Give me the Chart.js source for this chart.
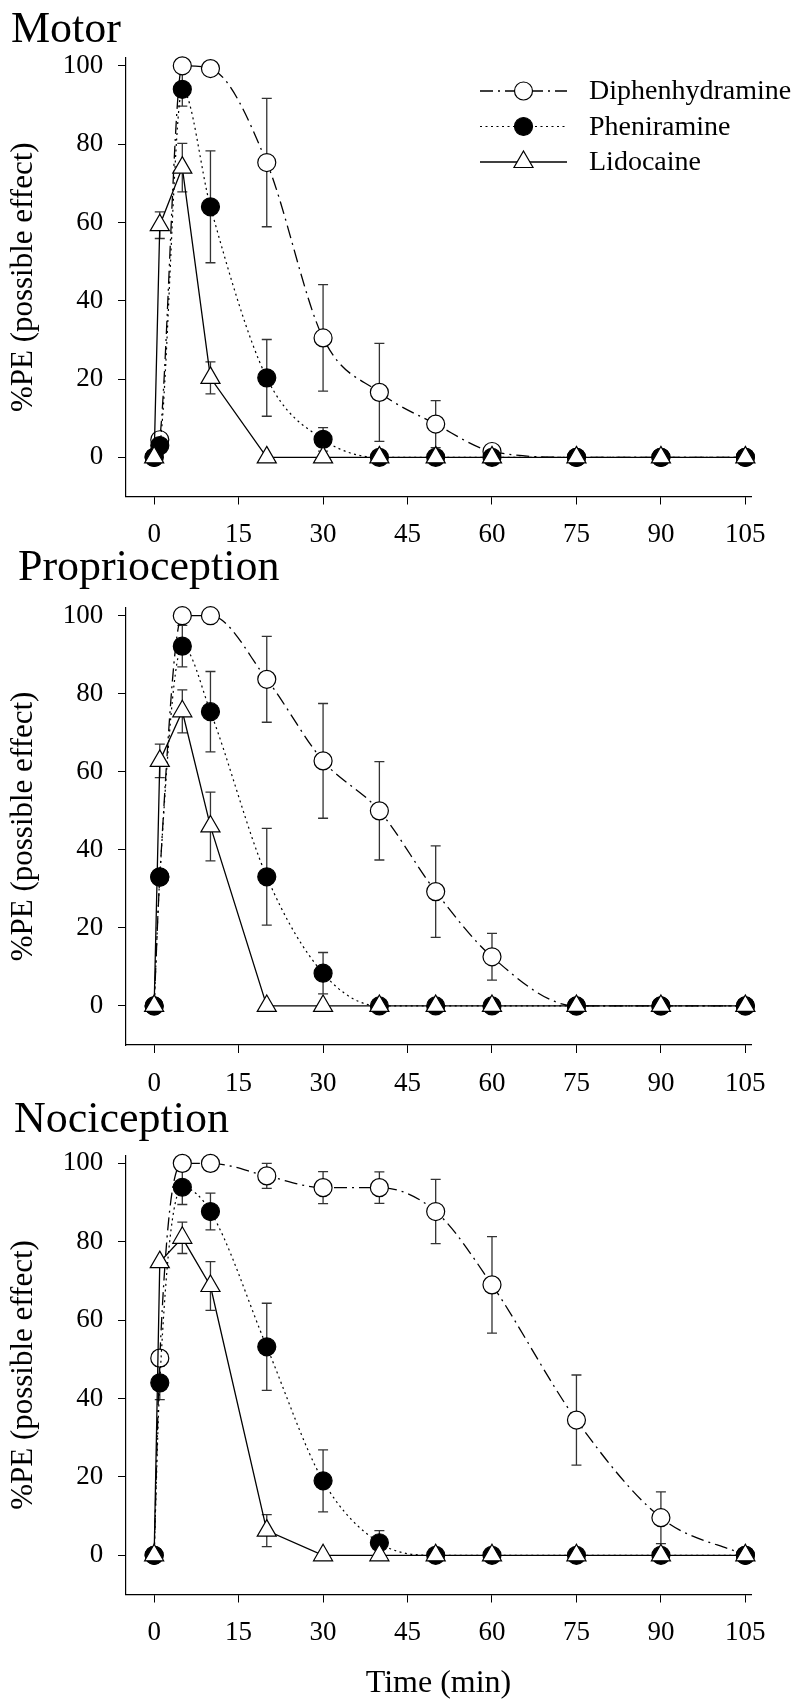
<!DOCTYPE html>
<html>
<head>
<meta charset="utf-8">
<script src="https://cdn.jsdelivr.net/npm/chart.js@4.4.1/dist/chart.umd.min.js"></script>
<style>
  html, body { margin: 0; padding: 0; background: #fff; }
  #wrap { position: relative; width: 800px; height: 1703px; }
  canvas { position: absolute; left: 0; }
</style>
</head>
<body>
<div id="wrap">
  <canvas id="motor" width="800" height="550" style="top:0px"></canvas>
  <canvas id="proprio" width="800" height="560" style="top:540px"></canvas>
  <canvas id="noci" width="800" height="613" style="top:1090px"></canvas>
</div>
<script>
// sampling times (min) and axis ticks
var times = [0, 1, 5, 10, 20, 30, 40, 50, 60, 75, 90, 105];
var xTicks = [0, 15, 30, 45, 60, 75, 90, 105];
var yTicks = [0, 20, 40, 60, 80, 100];
var drugNames = ["Diphenhydramine", "Pheniramine", "Lidocaine"];
var panelTitles = ["Motor", "Proprioception", "Nociception"];

// Motor
var motorDiph    = [0, 4.5, 100, 99.3, 75.3, 30.5, 16.6, 8.5, 1.5, 0, 0, 0];
var motorDiphErr = [0, 0, 0, 0, 16.4, 13.6, 12.5, 6, 0, 0, 0, 0];
var motorPhen    = [0, 3, 94, 64, 20.3, 4.6, 0, 0, 0, 0, 0, 0];
var motorPhenErr = [0, 0, 4.3, 14.3, 9.8, 3, 0, 0, 0, 0, 0, 0];
var motorLido    = [0, 59.3, 74, 20.3, 0, 0, 0, 0, 0, 0, 0, 0];
var motorLidoErr = [0, 3.4, 6.2, 4.1, 0, 0, 0, 0, 0, 0, 0, 0];

// Proprioception
var propDiph    = [0, 33, 100, 100, 83.7, 62.8, 50, 29.3, 12.6, 0, 0, 0];
var propDiphErr = [0, 0, 0, 0, 11, 14.7, 12.6, 11.7, 6, 0, 0, 0];
var propPhen    = [0, 33.1, 92.2, 75.4, 33.1, 8.4, 0, 0, 0, 0, 0, 0];
var propPhenErr = [0, 0, 5.3, 10.3, 12.4, 5.3, 0, 0, 0, 0, 0, 0];
var propLido    = [0, 62.8, 75.5, 46, 0, 0, 0, 0, 0, 0, 0, 0];
var propLidoErr = [0, 4.3, 5.5, 8.8, 0, 0, 0, 0, 0, 0, 0, 0];

// Nociception
var nociDiph    = [0, 50.3, 100, 100, 96.8, 93.8, 93.8, 87.7, 69, 34.5, 9.6, 0];
var nociDiphErr = [0, 0, 0, 0, 3.2, 4.1, 4, 8.2, 12.3, 11.5, 6.6, 0];
var nociPhen    = [0, 44, 93.9, 87.7, 53.2, 19, 3.2, 0, 0, 0, 0, 0];
var nociPhenErr = [0, 4.3, 4.4, 4.7, 11.1, 7.9, 3.1, 0, 0, 0, 0, 0];
var nociLido    = [0, 74.8, 81, 68.7, 6.3, 0, 0, 0, 0, 0, 0, 0];
var nociLidoErr = [0, 0, 4, 6.2, 4.1, 0, 0, 0, 0, 0, 0, 0];

Chart.defaults.font.family = "'Liberation Serif', 'Times New Roman', serif";
Chart.defaults.color = "#000";

function pts(vals) {
  return times.map(function(t, i){ return {x: t, y: vals[i]}; });
}

function makeSets(diph, diphErr, phen, phenErr, lido, lidoErr) {
  return [
    { label: drugNames[0], data: pts(diph), errors: diphErr,
      borderColor: "#000", borderWidth: 1.3, borderDash: [13, 5, 2, 5],
      pointStyle: "circle", pointRadius: 9, pointBackgroundColor: "#fff",
      pointBorderColor: "#000", pointBorderWidth: 1.2,
      cubicInterpolationMode: "monotone", order: 2, clip: false },
    { label: drugNames[1], data: pts(phen), errors: phenErr,
      borderColor: "#000", borderWidth: 1.2, borderDash: [2, 3.5],
      pointStyle: "circle", pointRadius: 9, pointBackgroundColor: "#000",
      pointBorderColor: "#000", pointBorderWidth: 1.2,
      cubicInterpolationMode: "monotone", order: 1, clip: false },
    { label: drugNames[2], data: pts(lido), errors: lidoErr,
      borderColor: "#000", borderWidth: 1.3, borderDash: [],
      pointStyle: "triangle", pointRadius: 11, pointBackgroundColor: "#fff",
      pointBorderColor: "#000", pointBorderWidth: 1.2,
      tension: 0, order: 0, clip: false }
  ];
}

// vertical error bars with caps, drawn under the markers
var errorBars = {
  id: "errorBars",
  beforeDatasetsDraw: function(chart) {
    var ctx = chart.ctx, xs = chart.scales.x, ys = chart.scales.y;
    ctx.save();
    ctx.strokeStyle = "#333";
    ctx.lineWidth = 1.3;
    ctx.setLineDash([]);
    chart.data.datasets.forEach(function(ds) {
      (ds.errors || []).forEach(function(e, i) {
        if (!e) return;
        var px = xs.getPixelForValue(ds.data[i].x);
        var top = ys.getPixelForValue(ds.data[i].y + e);
        var bot = ys.getPixelForValue(ds.data[i].y - e);
        ctx.beginPath();
        ctx.moveTo(px, top); ctx.lineTo(px, bot);
        ctx.moveTo(px - 5, top); ctx.lineTo(px + 5, top);
        ctx.moveTo(px - 5, bot); ctx.lineTo(px + 5, bot);
        ctx.stroke();
      });
    });
    ctx.restore();
  }
};

// legend with line sample + marker, like the original
var lineLegend = {
  id: "lineLegend",
  afterDatasetsDraw: function(chart) {
    var ctx = chart.ctx;
    var x0 = 480, x1 = 567, textX = 589, top = 91, gap = 35.5;
    chart.data.datasets.forEach(function(ds, i) {
      var y = top + i * gap;
      ctx.save();
      ctx.strokeStyle = "#000";
      ctx.lineWidth = ds.borderWidth;
      ctx.setLineDash(ds.borderDash || []);
      ctx.beginPath(); ctx.moveTo(x0, y); ctx.lineTo(x1, y); ctx.stroke();
      ctx.setLineDash([]);
      ctx.fillStyle = ds.pointBackgroundColor;
      ctx.strokeStyle = ds.pointBorderColor;
      ctx.lineWidth = ds.pointBorderWidth;
      Chart.helpers.drawPoint(ctx, {pointStyle: ds.pointStyle, radius: ds.pointRadius,
        borderWidth: ds.pointBorderWidth, rotation: 0}, (x0 + x1) / 2, y);
      ctx.fillStyle = "#000";
      ctx.font = "28px 'Liberation Serif', 'Times New Roman', serif";
      ctx.textAlign = "left";
      ctx.textBaseline = "middle";
      ctx.fillText(ds.label, textX, y + 1);
      ctx.restore();
    });
  }
};

function makePanel(id, title, titlePad, padLeft, xAxisHeight, xTitle, sets, extra) {
  return new Chart(document.getElementById(id), {
    type: "line",
    data: { datasets: sets },
    options: {
      responsive: false,
      animation: false,
      events: [],
      layout: { padding: { left: padLeft, right: 49, top: 0, bottom: 0 } },
      plugins: {
        legend: { display: false },
        tooltip: { enabled: false },
        title: { display: true, text: title, align: "start", color: "#000",
                 font: { size: 44, weight: "normal" }, padding: titlePad }
      },
      scales: {
        x: {
          type: "linear", min: -5, max: 106,
          afterBuildTicks: function(s){ s.ticks = xTicks.map(function(v){ return {value: v}; }); },
          afterFit: function(s){ s.height = xAxisHeight; },
          border: { display: true, color: "#000", width: 1.2 },
          grid: { display: true, drawOnChartArea: false, drawTicks: true, tickLength: 8, color: "#000", lineWidth: 1 },
          ticks: { font: { size: 27 }, color: "#000", padding: 14.5, maxRotation: 0, autoSkip: false },
          title: { display: !!xTitle, text: xTitle || "", color: "#000",
                   font: { size: 32 }, padding: { top: 0, bottom: 0 } }
        },
        y: {
          type: "linear", min: -10, max: 102,
          afterBuildTicks: function(s){ s.ticks = yTicks.map(function(v){ return {value: v}; }); },
          afterFit: function(s){ s.width = 126 - padLeft; },
          border: { display: true, color: "#000", width: 1.2 },
          grid: { display: true, drawOnChartArea: false, drawTicks: true, tickLength: 8, color: "#000", lineWidth: 1 },
          ticks: { font: { size: 27 }, color: "#000", padding: 14.7, autoSkip: false },
          title: { display: true, text: "%PE (possible effect)", color: "#000",
                   font: { size: 31 }, padding: { top: 4.9 - padLeft, bottom: 0 } }
        }
      }
    },
    plugins: [errorBars].concat(extra || [])
  });
}

makePanel("motor", panelTitles[0], { top: 3.75, bottom: 1.45 }, 11, 53.5, null,
  makeSets(motorDiph, motorDiphErr, motorPhen, motorPhenErr, motorLido, motorLidoErr), [lineLegend]);
makePanel("proprio", panelTitles[1], { top: 2.05, bottom: 13.05 }, 18, 55, null,
  makeSets(propDiph, propDiphErr, propPhen, propPhenErr, propLido, propLidoErr));
makePanel("noci", panelTitles[2], { top: 3.75, bottom: 8.95 }, 14, 108.5, "Time (min)",
  makeSets(nociDiph, nociDiphErr, nociPhen, nociPhenErr, nociLido, nociLidoErr));
</script>
</body>
</html>
